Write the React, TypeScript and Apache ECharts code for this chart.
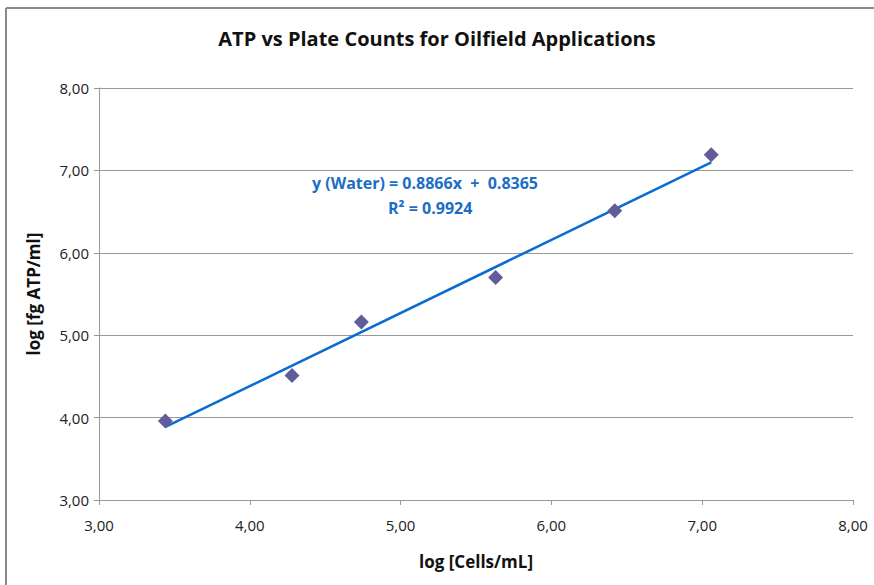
import React, { useEffect, useRef } from "react";
import * as echarts from "echarts";

const TITLE = "ATP vs Plate Counts for Oilfield Applications";
const X_NAME = "log [Cells/mL]";
const Y_NAME = "log [fg ATP/ml]";
const logCells = [3.44, 4.28, 4.74, 5.63, 6.42, 7.06];
const logATP = [3.96, 4.51, 5.16, 5.70, 6.51, 7.19];
const SLOPE = 0.8866;
const INTERCEPT = 0.8365;
const R2 = 0.9924;

const fmt = (v: number) => v.toFixed(2).replace(".", ",");
const FONT = "'Open Sans', 'Noto Sans', sans-serif";

export default function App() {
  const ref = useRef<HTMLDivElement>(null);
  useEffect(() => {
    if (!ref.current) return;
    const chart = echarts.init(ref.current, undefined, { renderer: "svg" });
    const xMin = Math.min(...logCells);
    const xMax = Math.max(...logCells);
    const trend = [
      [xMin, SLOPE * xMin + INTERCEPT],
      [xMax, SLOPE * xMax + INTERCEPT],
    ];
    chart.setOption({
      animation: false,
      backgroundColor: "#fff",
      title: {
        text: TITLE,
        left: "center",
        top: 23,
        textStyle: { fontFamily: FONT, fontSize: 20, fontWeight: "bold", color: "#111" },
      },
      grid: { left: 99, right: 21, top: 88, bottom: 85 },
      xAxis: {
        type: "value",
        min: 3,
        max: 8,
        interval: 1,
        name: X_NAME,
        nameLocation: "middle",
        nameGap: 53,
        nameTextStyle: { fontFamily: FONT, fontSize: 17, fontWeight: "bold", color: "#111" },
        axisLine: { show: true, lineStyle: { color: "#999", width: 1 } },
        axisTick: { show: true, inside: false, length: 5, lineStyle: { color: "#999" } },
        axisLabel: { formatter: fmt, fontFamily: FONT, fontSize: 15, color: "#222", margin: 17 },
        splitLine: { show: false },
      },
      yAxis: {
        type: "value",
        min: 3,
        max: 8,
        interval: 1,
        name: Y_NAME,
        nameLocation: "middle",
        nameGap: 57,
        nameTextStyle: { fontFamily: FONT, fontSize: 17, fontWeight: "bold", color: "#111" },
        axisLine: { show: true, lineStyle: { color: "#999", width: 1 } },
        axisTick: { show: true, inside: false, length: 5, lineStyle: { color: "#999" } },
        axisLabel: { formatter: fmt, fontFamily: FONT, fontSize: 15, color: "#222", margin: 10 },
        splitLine: { show: true, lineStyle: { color: "#999", width: 1 } },
      },
      series: [
        {
          name: "Trend",
          type: "line",
          data: trend,
          showSymbol: false,
          lineStyle: { color: "#0A6BD0", width: 2.5 },
          z: 2,
        },
        {
          name: "Water",
          type: "scatter",
          data: logCells.map((x, i) => [x, logATP[i]]),
          symbol: "diamond",
          symbolSize: 15,
          itemStyle: { color: "#625C9A", opacity: 1 },
          z: 3,
        },
      ],
      graphic: [
        {
          type: "line",
          shape: { x1: 6, y1: 8, x2: 874, y2: 8 },
          style: { stroke: "#8a8a8a", lineWidth: 2 },
        },
        {
          type: "line",
          shape: { x1: 6, y1: 8, x2: 6, y2: 585 },
          style: { stroke: "#8a8a8a", lineWidth: 2 },
        },
        {
          type: "text",
          left: 312,
          top: 175,
          style: {
            text: `y (Water) = ${SLOPE}x  +  ${INTERCEPT}`,
            fontFamily: FONT,
            fontSize: 16,
            fontWeight: "bold",
            fill: "#1C6DC6",
          },
        },
        {
          type: "text",
          left: 388,
          top: 200,
          style: {
            text: `R² = ${R2}`,
            fontFamily: FONT,
            fontSize: 16,
            fontWeight: "bold",
            fill: "#1C6DC6",
          },
        },
      ],
    });
    return () => chart.dispose();
  }, []);
  return <div ref={ref} style={{ width: 874, height: 585, position: "absolute", left: 0, top: 0 }} />;
}
